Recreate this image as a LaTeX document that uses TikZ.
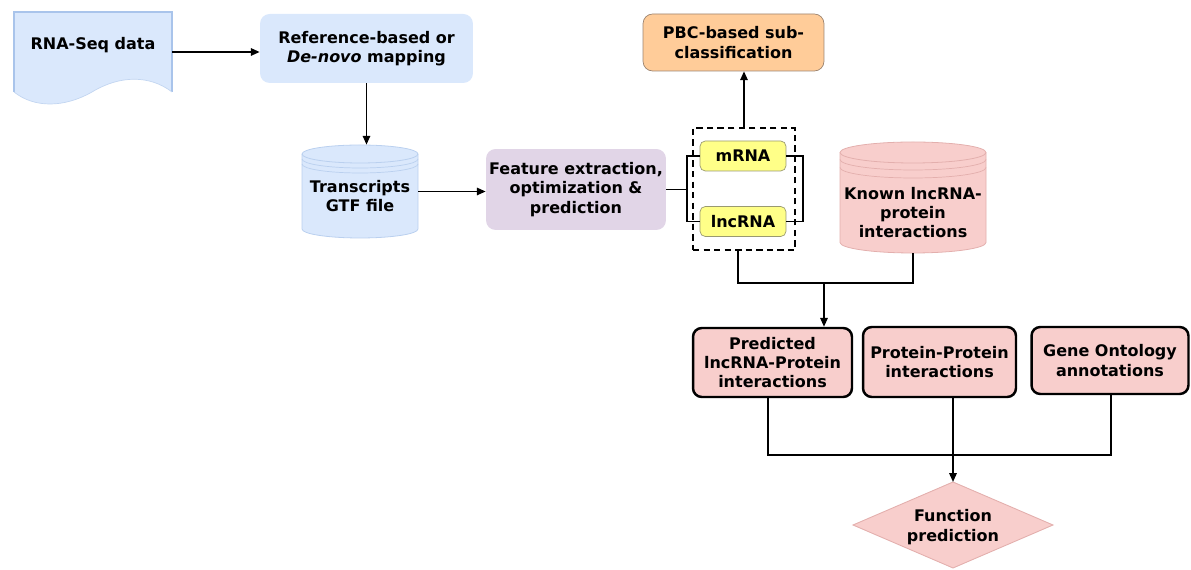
\documentclass[tikz,border=0pt]{standalone}
\usepackage{fontspec}
\setmainfont{DejaVu Sans}
\usetikzlibrary{arrows.meta,calc}

\definecolor{skyfill}{HTML}{DAE8FC}
\definecolor{skyline}{HTML}{A9C4EB}
\definecolor{lilacfill}{HTML}{E1D5E7}
\definecolor{peachfill}{HTML}{FFCC99}
\definecolor{peachline}{HTML}{9C8470}
\definecolor{rosefill}{HTML}{F8CECC}
\definecolor{roseline}{HTML}{E3AFAD}
\definecolor{lemonfill}{HTML}{FFFF88}
\definecolor{lemonline}{HTML}{9A9A70}

\tikzset{
  lbl/.style={font=\fontsize{9.1}{11}\selectfont\bfseries, align=center, text=black},
  softbox/.style={lbl, inner sep=0pt, rounded corners=5.5pt},
  pinkbox/.style={lbl, inner sep=0pt, draw=black, line width=1.4pt, fill=rosefill, rounded corners=5pt},
  chipbox/.style={lbl, inner sep=0pt, draw=lemonline, line width=0.4pt, fill=lemonfill, rounded corners=3pt},
  conn/.style={line width=0.95pt, draw=black},
  arr/.style={conn, -{Triangle[length=5pt,width=4.2pt]}},
  holder/.style={inner sep=0pt, draw=none},
}

% drum shape: x-left, x-right, y-top, y-bottom, y-radius, fill, line, offsets of the two extra rims
\newcommand\drumshape[9]{%
  \pgfmathsetmacro\drumrx{(#2-#1)/2}%
  \fill[#6] (#1,#3+#5) -- (#1,#4-#5) arc[start angle=180,end angle=0,x radius=\drumrx,y radius=#5]
     -- (#2,#3+#5) arc[start angle=0,end angle=-180,x radius=\drumrx,y radius=#5] -- cycle;
  \draw[#7, line width=0.45pt] (#1,#3+#5) -- (#1,#4-#5) arc[start angle=180,end angle=0,x radius=\drumrx,y radius=#5]
     -- (#2,#3+#5) arc[start angle=0,end angle=-180,x radius=\drumrx,y radius=#5];
  \draw[#7, line width=0.45pt] (#1,#3+#5) arc[start angle=180,end angle=0,x radius=\drumrx,y radius=#5];
  \draw[#7, line width=0.4pt] (#1,#3+#5+#8) arc[start angle=180,end angle=0,x radius=\drumrx,y radius=#5];
  \draw[#7, line width=0.4pt] (#1,#3+#5+#9) arc[start angle=180,end angle=0,x radius=\drumrx,y radius=#5];
}

\begin{document}
\begin{tikzpicture}[x=0.02cm,y=-0.02cm]
\useasboundingbox (0,0) rectangle (1191,570);

% ---- RNA-Seq document sheet
\fill[skyfill] (14,12) -- (172,12) -- (172,92)
   .. controls (150,75) and (120,75) .. (92,92)
   .. controls (64,108) and (34,108) .. (14,92) -- cycle;
\draw[skyline, line width=0.6pt] (14,92) -- (14,12) -- (172,12) -- (172,92);
\draw[skyline!70, line width=0.4pt] (172,92)
   .. controls (150,75) and (120,75) .. (92,92)
   .. controls (64,108) and (34,108) .. (14,92);
\node[holder, minimum width=3.16cm, minimum height=1.6cm] (rna) at (93,52) {};
\node[lbl] (rnatext) at (93,45) {RNA-Seq data};

% ---- mapping step
\node[softbox, fill=skyfill, minimum width=4.26cm, minimum height=1.38cm] (ref) at (366.5,48.5)
  {Reference-based or\\\textit{De-novo} mapping};
\draw[arr] (rna.east) -- (rna.east -| ref.west);

% ---- transcripts drum
\drumshape{302}{418}{145}{238}{9}{skyfill}{skyline!80}{5}{10}
\node[holder, minimum width=2.32cm, minimum height=1.86cm] (gtf) at (360,191.5) {};
\node[lbl] (gtftext) at (360,196) {Transcripts\\GTF file};
\draw[arr] (ref.south) -- (ref.south |- gtf.north);

% ---- feature extraction
\node[softbox, fill=lilacfill, minimum width=3.6cm, minimum height=1.62cm] (feat) at (576,189.5)
  {Feature extraction,\\optimization \&\\prediction};
\draw[arr] (gtf.east) -- (gtf.east -| feat.west);

% ---- classes
\node[chipbox, minimum width=1.72cm, minimum height=0.6cm] (mrna) at (743,156) {mRNA};
\node[chipbox, minimum width=1.72cm, minimum height=0.6cm] (lnc) at (743,221.5) {lncRNA};
\coordinate (lb) at (687,189.5);
\coordinate (rb) at (803,189.5);
\draw[conn] (feat.east) -- (lb);
\draw[conn] (mrna.west) -| (lb);
\draw[conn] (lnc.west) -| (lb);
\draw[conn] (mrna.east) -| (rb) |- (lnc.east);
\node[holder, draw=black, line width=1.1pt, dash pattern=on 3.6pt off 2.4pt,
      minimum width=2.04cm, minimum height=2.44cm] (grp) at (744,189) {};

% ---- PBC sub-classification
\node[softbox, fill=peachfill, draw=peachline, line width=0.4pt, minimum width=3.62cm, minimum height=1.14cm]
  (pbc) at (733.5,42.5) {PBC-based sub-\\classification};
\draw[arr] (grp.north) -- (grp.north |- pbc.south);

% ---- known interactions drum
\drumshape{840}{986}{142}{253}{10.5}{rosefill}{roseline}{7}{15}
\node[holder, minimum width=2.92cm, minimum height=2.22cm] (known) at (913,197.5) {};
\node[lbl] (knowntext) at (913,212.5) {Known lncRNA-\\protein\\interactions};

% ---- second stage boxes
\node[pinkbox, minimum width=3.18cm, minimum height=1.38cm] (pred) at (772.5,362.5)
  {Predicted\\lncRNA-Protein\\interactions};
\node[pinkbox, minimum width=3.06cm, minimum height=1.4cm] (ppi) at (939.5,362)
  {Protein-Protein\\interactions};
\node[pinkbox, minimum width=3.14cm, minimum height=1.34cm] (go) at (1110,360.5)
  {Gene Ontology\\annotations};

% merge into predicted interactions
\coordinate (grpfoot) at (738,250);
\coordinate (joinA) at (824,283);
\draw[conn] (grpfoot) |- (joinA);
\draw[conn] (known.south) |- (joinA);
\draw[arr] (joinA) -- (joinA |- pred.north);

% ---- function prediction diamond
\coordinate (fntop) at (953,482);
\fill[rosefill] (953,482) -- (1053,525) -- (953,568) -- (853,525) -- cycle;
\draw[roseline, line width=0.5pt] (953,482) -- (1053,525) -- (953,568) -- (853,525) -- cycle;
\node[lbl] (fn) at (953,527) {Function\\prediction};

\coordinate (predfoot) at (768,397);
\coordinate (ppifoot) at (953,397);
\coordinate (gofoot) at (1111,394);
\coordinate (joinB) at (953,455);
\draw[conn] (predfoot) |- (joinB);
\draw[conn] (gofoot) |- (joinB);
\draw[arr] (ppifoot) -- (fntop);
\end{tikzpicture}
\end{document}
